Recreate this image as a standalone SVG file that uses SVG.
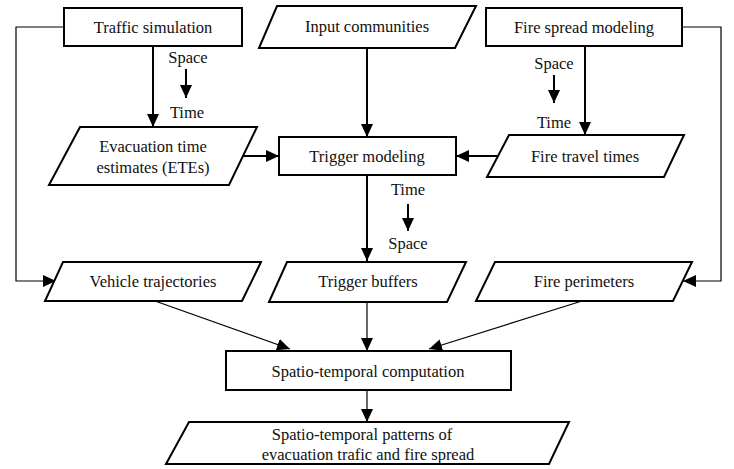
<svg xmlns="http://www.w3.org/2000/svg" width="734" height="469" viewBox="0 0 734 469">
<style>
.box{fill:#fff;stroke:#000;stroke-width:2}
.t{font-size:16.5px;fill:#111;text-anchor:middle}
.c{fill:none;stroke:#000;stroke-width:2}
.thin{fill:none;stroke:#000;stroke-width:1.2}
</style>
<defs>
<marker id="ah" markerUnits="userSpaceOnUse" markerWidth="14" markerHeight="12" refX="13" refY="6" orient="auto">
<path d="M0,0 L13,6 L0,12 Z" fill="#000"/>
</marker>
</defs>
<rect width="734" height="469" fill="#fff"/>
<g font-family="Liberation Serif, Times New Roman, serif">
<g id="connectors">
<line class="c" x1="153" y1="46" x2="153" y2="127" marker-end="url(#ah)"/>
<line class="c" x1="367" y1="48" x2="367" y2="137" marker-end="url(#ah)"/>
<line class="c" x1="585" y1="46" x2="585" y2="135" marker-end="url(#ah)"/>
<line class="c" x1="243" y1="156" x2="279" y2="156" marker-end="url(#ah)"/>
<line class="c" x1="497" y1="156" x2="456" y2="156" marker-end="url(#ah)"/>
<line class="c" x1="367" y1="175" x2="367" y2="261" marker-end="url(#ah)"/>
<polyline class="thin" points="64,27 16,27 16,281 56,281" marker-end="url(#ah)"/>
<polyline class="thin" points="682,27 721,27 721,281 683,281" marker-end="url(#ah)"/>
<line class="thin" x1="155" y1="301" x2="290" y2="349" marker-end="url(#ah)"/>
<line class="thin" x1="582" y1="301" x2="429" y2="349" marker-end="url(#ah)"/>
<line class="thin" x1="367" y1="302" x2="367" y2="351" marker-end="url(#ah)"/>
<line class="thin" x1="367" y1="390" x2="367" y2="422" marker-end="url(#ah)"/>
<line class="c" x1="186" y1="69" x2="186" y2="98" marker-end="url(#ah)"/>
<line class="c" x1="554" y1="75" x2="554" y2="103" marker-end="url(#ah)"/>
<line class="c" x1="408" y1="204" x2="408" y2="231" marker-end="url(#ah)"/>
<text class="t" x="188" y="63">Space</text>
<text class="t" x="187" y="118">Time</text>
<text class="t" x="554" y="69">Space</text>
<text class="t" x="554" y="128">Time</text>
<text class="t" x="408" y="195">Time</text>
<text class="t" x="408" y="249">Space</text>
</g>
<g id="traffic-simulation">
<rect class="box" x="64" y="8" width="178" height="38"/>
<text class="t" x="153" y="33">Traffic simulation</text>
</g>
<g id="input-communities">
<polygon class="box" points="277,6 476,6 455,48 259,48"/>
<text class="t" x="367" y="32">Input communities</text>
</g>
<g id="fire-spread-modeling">
<rect class="box" x="486" y="8" width="196" height="38"/>
<text class="t" x="584" y="33">Fire spread modeling</text>
</g>
<g id="ete">
<polygon class="box" points="80,127 257,127 229,185 49,185"/>
<text class="t" x="153" y="152">Evacuation time</text>
<text class="t" x="153" y="173">estimates (ETEs)</text>
</g>
<g id="trigger-modeling">
<rect class="box" x="279" y="137" width="177" height="38"/>
<text class="t" x="367" y="162">Trigger modeling</text>
</g>
<g id="fire-travel-times">
<polygon class="box" points="509,135 684,135 664,177 487,177"/>
<text class="t" x="585" y="162">Fire travel times</text>
</g>
<g id="vehicle-trajectories">
<polygon class="box" points="63,262 261,262 242,301 45,301"/>
<text class="t" x="153" y="287">Vehicle trajectories</text>
</g>
<g id="trigger-buffers">
<polygon class="box" points="287,262 466,262 447,302 269,302"/>
<text class="t" x="368" y="287">Trigger buffers</text>
</g>
<g id="fire-perimeters">
<polygon class="box" points="495,262 692,262 673,301 476,301"/>
<text class="t" x="584" y="287">Fire perimeters</text>
</g>
<g id="spatio-temporal-computation">
<rect class="box" x="226" y="351" width="285" height="39"/>
<text class="t" x="368" y="377">Spatio-temporal computation</text>
</g>
<g id="patterns">
<polygon class="box" points="189,422 569,422 549,464 166,464"/>
<text class="t" x="362" y="440">Spatio-temporal patterns of</text>
<text class="t" x="368" y="460">evacuation trafic and fire spread</text>
</g>
</g>
</svg>
